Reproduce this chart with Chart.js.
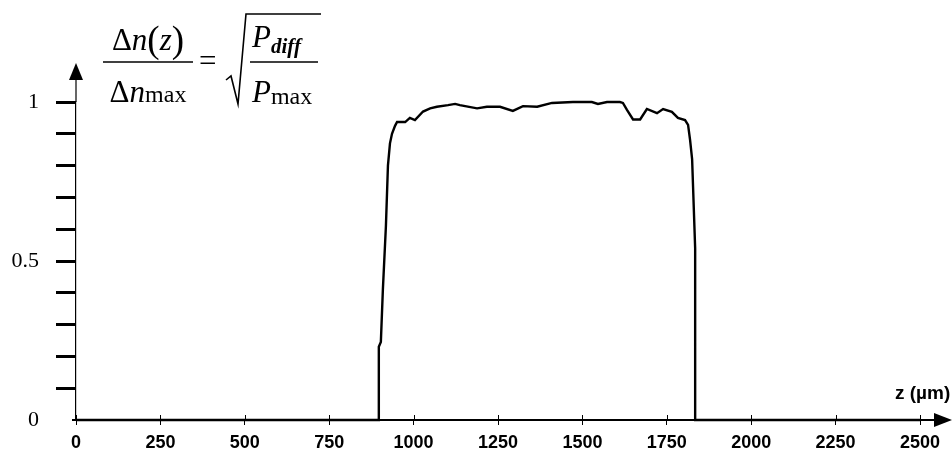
<!DOCTYPE html>
<html lang="en">
<head>
    <meta charset="UTF-8">
    <title>Index profile</title>
    <script src="https://cdn.jsdelivr.net/npm/chart.js"></script>
    <style>
        body { margin: 0; background: #fff; }
        #chart { display: block; }
    </style>
</head>
<body>
<canvas id="chart" width="952" height="452"></canvas>
<script>
    // Profile: z in µm, normalised index change
    const zValues = [0, 897, 897, 903, 909, 918, 924, 930, 936, 945, 951, 975, 989, 1004, 1028, 1049, 1069, 1102, 1123, 1137,
        1188, 1217, 1256, 1294, 1324, 1366, 1410, 1472, 1528, 1546, 1573, 1611, 1620, 1632, 1650, 1671, 1691, 1721,
        1739, 1765, 1783, 1804, 1813, 1819, 1825, 1834, 1834, 2500];
    const nValues = [0, 0, 0.23, 0.245, 0.41, 0.61, 0.8, 0.87, 0.9, 0.925, 0.937, 0.937, 0.95, 0.943, 0.97, 0.98, 0.985, 0.99, 0.994, 0.99,
        0.98, 0.985, 0.985, 0.972, 0.987, 0.985, 0.997, 1.0, 1.0, 0.994, 1.0, 1.0, 0.997, 0.975, 0.945, 0.945, 0.978, 0.965,
        0.978, 0.969, 0.95, 0.943, 0.928, 0.88, 0.82, 0.54, 0, 0];
    const yLabels = [0, 0.5, 1];
    const xStep = 250;
    const yStep = 0.1;

    const points = zValues.map((z, i) => ({ x: z, y: nValues[i] }));

    // arrows, formula and axis title
    const decor = {
        id: 'decor',
        afterDraw(chart) {
            const c = chart.ctx;
            const a = chart.chartArea;
            const ys = a.bottom;
            c.save();
            c.strokeStyle = '#000';
            c.fillStyle = '#000';

            // y axis up to arrow
            c.lineWidth = 1.2;
            c.beginPath();
            c.moveTo(a.left, a.top);
            c.lineTo(a.left, 76);
            c.stroke();
            c.beginPath();
            c.moveTo(a.left, 63);
            c.lineTo(a.left - 7, 80);
            c.lineTo(a.left + 7, 80);
            c.closePath();
            c.fill();

            // x axis to arrow
            c.lineWidth = 2;
            c.beginPath();
            c.moveTo(a.left - 4, ys);
            c.lineTo(940, ys);
            c.stroke();
            c.beginPath();
            c.moveTo(952, ys);
            c.lineTo(934, ys - 7);
            c.lineTo(934, ys + 7);
            c.closePath();
            c.fill();

            // small marks above x axis
            c.lineWidth = 1;
            chart.scales.x.ticks.forEach(t => {
                const px = Math.round(chart.scales.x.getPixelForValue(t.value)) + 0.5;
                c.beginPath();
                c.moveTo(px, ys - 5);
                c.lineTo(px, ys);
                c.stroke();
            });

            // axis title
            c.font = 'bold 19px "Liberation Sans", Arial, sans-serif';
            c.textBaseline = 'alphabetic';
            c.textAlign = 'left';
            c.fillText('z (µm)', 895, 399);

            // formula
            const serif = '"Liberation Serif", "Times New Roman", serif';
            function run(parts, x, y) {
                parts.forEach(p => {
                    c.font = p[1] + ' ' + serif;
                    c.fillText(p[0], x, y + (p[2] || 0));
                    x += c.measureText(p[0]).width;
                });
                return x;
            }
            function width(parts) {
                let w = 0;
                parts.forEach(p => { c.font = p[1] + ' ' + serif; w += c.measureText(p[0]).width; });
                return w;
            }
            const num = [['Δ', '31px'], ['n', 'italic 31px'], ['(', '37px', 2], ['z', 'italic 31px'], [')', '37px', 2]];
            const den = [['Δ', '31px'], ['n', 'italic 31px'], ['max', '24px']];
            run(num, 148 - width(num) / 2, 50);
            run(den, 148 - width(den) / 2, 102);
            c.lineWidth = 1.5;
            c.beginPath();
            c.moveTo(103, 62);
            c.lineTo(193, 62);
            c.stroke();
            run([['=', '31px']], 199, 71);

            // radical sign
            c.lineWidth = 1.6;
            c.beginPath();
            c.moveTo(226, 80);
            c.lineTo(231, 76);
            c.lineTo(238, 104);
            c.lineTo(246, 14);
            c.lineTo(321, 14);
            c.stroke();
            run([['P', 'italic 31px'], ['diff', 'italic bold 21px', 6]], 252, 47);
            run([['P', 'italic 31px'], ['max', '24px', 2]], 252, 102);
            c.lineWidth = 1.5;
            c.beginPath();
            c.moveTo(250, 62);
            c.lineTo(318, 62);
            c.stroke();
            c.restore();
        }
    };

    new Chart(document.getElementById('chart'), {
        type: 'line',
        data: {
            datasets: [{
                data: points,
                borderColor: '#000',
                borderWidth: 2.4,
                pointRadius: 0,
                tension: 0,
                fill: false,
                clip: false
            }]
        },
        options: {
            responsive: false,
            animation: false,
            devicePixelRatio: 1,
            layout: { padding: { top: 102, right: 32, left: 0, bottom: 0 } },
            plugins: { legend: { display: false }, tooltip: { enabled: false } },
            scales: {
                x: {
                    type: 'linear',
                    min: 0,
                    max: 2500,
                    afterFit: s => { s.height = 32; },
                    ticks: {
                        stepSize: xStep,
                        color: '#000',
                        padding: 7,
                        maxRotation: 0,
                        font: { family: '"Liberation Sans", Arial, sans-serif', size: 18, weight: 'bold' },
                        callback: v => String(v)
                    },
                    grid: { drawOnChartArea: false, tickLength: 5, tickWidth: 1, tickColor: '#000' },
                    border: { display: true, color: '#000', width: 2 }
                },
                y: {
                    min: 0,
                    max: 1,
                    afterFit: s => { s.width = 76; },
                    ticks: {
                        stepSize: yStep,
                        color: '#000',
                        padding: 17,
                        autoSkip: false,
                        font: { family: '"Liberation Serif", "Times New Roman", serif', size: 22 },
                        callback: v => {
                            const r = Math.round(v * 10) / 10;
                            return yLabels.includes(r) ? String(r) : '';
                        }
                    },
                    grid: {
                        drawOnChartArea: false,
                        tickLength: 20,
                        tickWidth: 3,
                        tickColor: ctx => (ctx.tick && ctx.tick.value === 0 ? 'rgba(0,0,0,0)' : '#000')
                    },
                    border: { display: true, color: '#000', width: 1.2 }
                }
            }
        },
        plugins: [decor]
    });
</script>
</body>
</html>
